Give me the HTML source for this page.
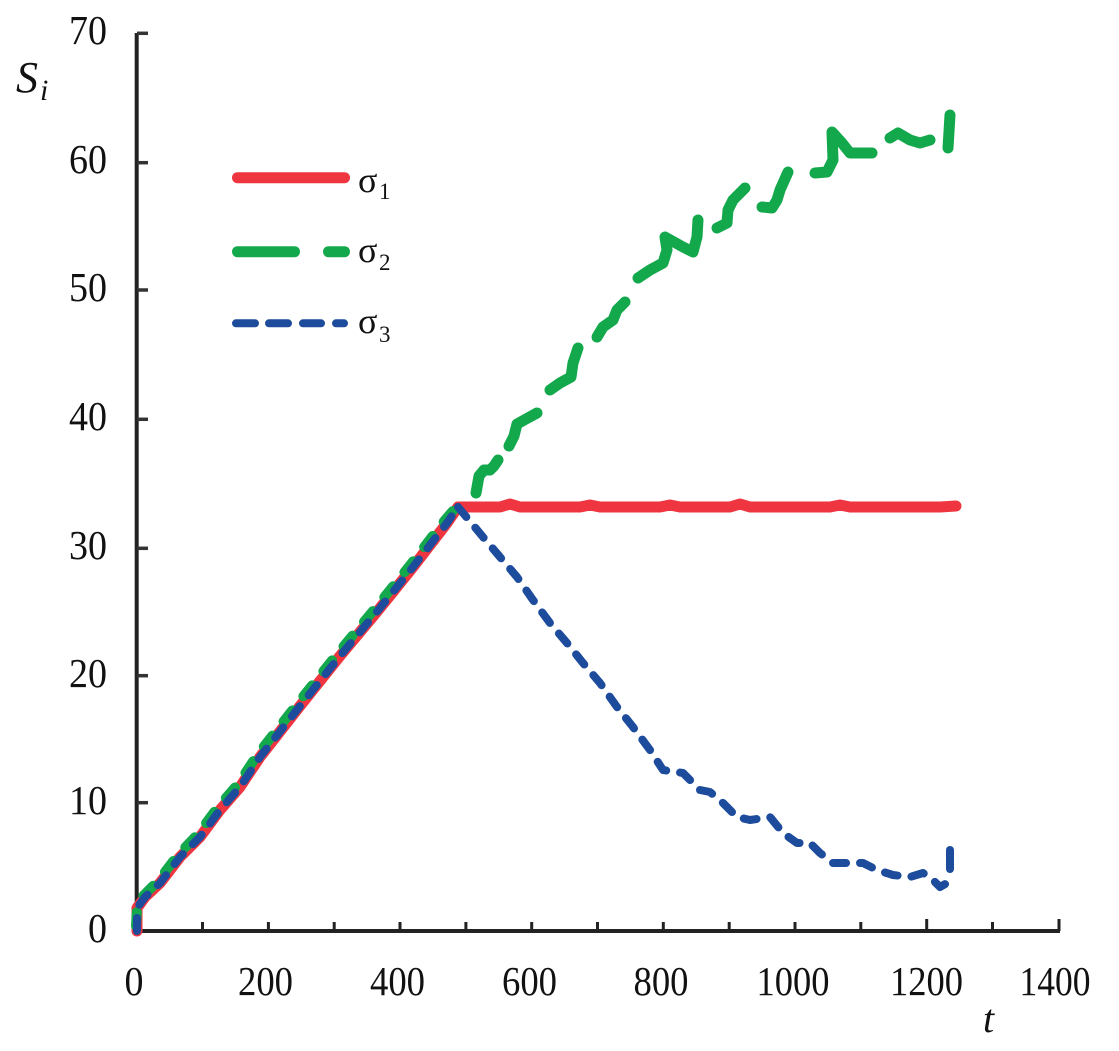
<!DOCTYPE html>
<html>
<head>
<meta charset="utf-8">
<style>
html,body{margin:0;padding:0;background:#fff;}
svg{display:block;}
text{font-family:"Liberation Serif",serif;fill:#111;}
</style>
</head>
<body>
<svg width="1119" height="1051" viewBox="0 0 1119 1051" xmlns="http://www.w3.org/2000/svg">
<rect width="1119" height="1051" fill="#fff"/>

<!-- Axes -->
<g stroke="#222" stroke-width="4" fill="none">
  <line x1="136.7" y1="33" x2="136.7" y2="931"/>
  <line x1="134.7" y1="931" x2="1060" y2="931"/>
</g>
<!-- Y ticks -->
<g stroke="#333" stroke-width="3.5">
  <line x1="137" y1="33.3" x2="148" y2="33.3"/>
  <line x1="137" y1="162.7" x2="148" y2="162.7"/>
  <line x1="137" y1="290" x2="148" y2="290"/>
  <line x1="137" y1="419.3" x2="148" y2="419.3"/>
  <line x1="137" y1="548.3" x2="148" y2="548.3"/>
  <line x1="137" y1="675.7" x2="148" y2="675.7"/>
  <line x1="137" y1="802.7" x2="148" y2="802.7"/>
</g>
<!-- X ticks -->
<g stroke="#222" stroke-width="3">
  <line x1="202.5" y1="922" x2="202.5" y2="931"/>
  <line x1="268.4" y1="922" x2="268.4" y2="931"/>
  <line x1="334.2" y1="922" x2="334.2" y2="931"/>
  <line x1="400" y1="922" x2="400" y2="931"/>
  <line x1="465.9" y1="922" x2="465.9" y2="931"/>
  <line x1="531.7" y1="922" x2="531.7" y2="931"/>
  <line x1="597.5" y1="922" x2="597.5" y2="931"/>
  <line x1="663.3" y1="922" x2="663.3" y2="931"/>
  <line x1="729.2" y1="922" x2="729.2" y2="931"/>
  <line x1="795" y1="922" x2="795" y2="931"/>
  <line x1="860.8" y1="922" x2="860.8" y2="931"/>
  <line x1="926.7" y1="919" x2="926.7" y2="931"/>
  <line x1="992.5" y1="922" x2="992.5" y2="931"/>
  <line x1="1059" y1="919" x2="1059" y2="931"/>
</g>

<!-- Y labels -->
<g font-size="41" text-anchor="end">
  <text x="107" y="44" textLength="38" lengthAdjust="spacingAndGlyphs">70</text>
  <text x="107" y="173" textLength="38" lengthAdjust="spacingAndGlyphs">60</text>
  <text x="107" y="301" textLength="38" lengthAdjust="spacingAndGlyphs">50</text>
  <text x="107" y="430" textLength="38" lengthAdjust="spacingAndGlyphs">40</text>
  <text x="107" y="559" textLength="38" lengthAdjust="spacingAndGlyphs">30</text>
  <text x="107" y="687" textLength="38" lengthAdjust="spacingAndGlyphs">20</text>
  <text x="107" y="814" textLength="38" lengthAdjust="spacingAndGlyphs">10</text>
  <text x="107" y="942" textLength="19" lengthAdjust="spacingAndGlyphs">0</text>
</g>
<!-- X labels -->
<g font-size="41" text-anchor="middle">
  <text x="134" y="995" textLength="19" lengthAdjust="spacingAndGlyphs">0</text>
  <text x="265.5" y="995" textLength="55" lengthAdjust="spacingAndGlyphs">200</text>
  <text x="397.5" y="995" textLength="55" lengthAdjust="spacingAndGlyphs">400</text>
  <text x="529.5" y="995" textLength="55" lengthAdjust="spacingAndGlyphs">600</text>
  <text x="661" y="995" textLength="55" lengthAdjust="spacingAndGlyphs">800</text>
  <text x="793" y="995" textLength="73" lengthAdjust="spacingAndGlyphs">1000</text>
  <text x="926.5" y="995" textLength="73" lengthAdjust="spacingAndGlyphs">1200</text>
  <text x="1055" y="995" textLength="71" lengthAdjust="spacingAndGlyphs">1400</text>
</g>

<!-- Axis titles -->
<text x="16" y="92" font-size="44" font-style="italic">S</text>
<text x="40" y="100" font-size="30" font-style="italic">i</text>
<text x="983" y="1032" font-size="40" font-style="italic">t</text>

<!-- Legend -->
<g stroke-linecap="round" fill="none">
  <line x1="237.5" y1="177.7" x2="344.5" y2="177.7" stroke="#ee3540" stroke-width="11"/>
  <line x1="237.5" y1="251.7" x2="294.5" y2="251.7" stroke="#13a84c" stroke-width="11"/>
  <line x1="328.5" y1="251.7" x2="344.5" y2="251.7" stroke="#13a84c" stroke-width="11"/>
  <g stroke="#1e4c9c" stroke-width="8">
    <line x1="236" y1="323.3" x2="255" y2="323.3"/>
    <line x1="269" y1="323.3" x2="288" y2="323.3"/>
    <line x1="303" y1="323.3" x2="321" y2="323.3"/>
    <line x1="336" y1="323.3" x2="344" y2="323.3"/>
  </g>
</g>
<g>
  <text x="358" y="192" font-size="36">σ</text>
  <text x="379" y="199" font-size="23">1</text>
  <text x="358" y="262" font-size="36">σ</text>
  <text x="379" y="270" font-size="23">2</text>
  <text x="358" y="333" font-size="36">σ</text>
  <text x="379" y="342" font-size="23">3</text>
</g>

<!-- Red series -->
<g fill="none" stroke="#ee3540" stroke-width="11" stroke-linecap="round" stroke-linejoin="round">
  <polyline points="137,931 137,908 145,897 160,883 180,857 200,837 220,810 240,787 260,757 300,706 340,656 380,608 413,567 447,523 458,507"/>
  <polyline points="458,507 500,507 510,504 520,507 580,507 590,505 600,507 660,507 670,505 680,507 730,507 740,504 750,507 830,507 840,505 850,507 920,507 940,507 956,506"/>
</g>

<!-- Green series -->
<g fill="none" stroke="#13a84c" stroke-width="11" stroke-linecap="round" stroke-linejoin="round">
  <polyline points="136,926 137,908 143,896 158,881 178,855 198,834 218,807 238,784 258,754 298,703 338,653 378,605 411,564 445,520 458,505" stroke-dasharray="14 18" stroke-width="10"/>
  <polyline points="476,493 479,476 484,470 490,470 494,466 498,460"/>
  <polyline points="509,446 514,436 517,424 526,419 537,413"/>
  <polyline points="550,390 560,383 571,377 573,363 578,348"/>
  <polyline points="597,337 603,327 613,320 617,310 625,302"/>
  <polyline points="638,278 650,270 663,263 667,250 665,237 683,247 693,252 697,237 698,220"/>
  <polyline points="717,228 727,223 728,210 733,200 745,188"/>
  <polyline points="762,207 772,208 777,200 780,190 788,172"/>
  <polyline points="815,173 827,172 833,160 832,132 842,143 850,153 860,153 872,153"/>
  <polyline points="890,138 898,133 910,140 920,143 930,140"/>
  <polyline points="948,148 950,115"/>
</g>

<!-- Blue series -->
<g fill="none" stroke="#1e4c9c" stroke-width="8" stroke-linecap="round" stroke-linejoin="round" stroke-dasharray="13 14">
  <polyline points="137,931 137,908 145,897 160,883 180,857 200,837 220,810 240,787 260,757 300,706 340,656 380,608 413,567 447,523 458,507"/>
  <polyline points="458,507 463,513 483,537 500,557 517,577 533,600 550,623 567,643 583,663 600,683 617,707 633,727 650,750 663,770 683,773 700,790 710,792 723,803 737,817 750,820 770,817 783,833 797,843 810,843 820,853 833,863 847,863 863,863 877,870 893,875 910,877 923,873 933,880 940,887 947,883"/>
</g>
<line x1="950" y1="850" x2="950" y2="869" stroke="#1e4c9c" stroke-width="8" stroke-linecap="round"/>
</svg>
</body>
</html>
